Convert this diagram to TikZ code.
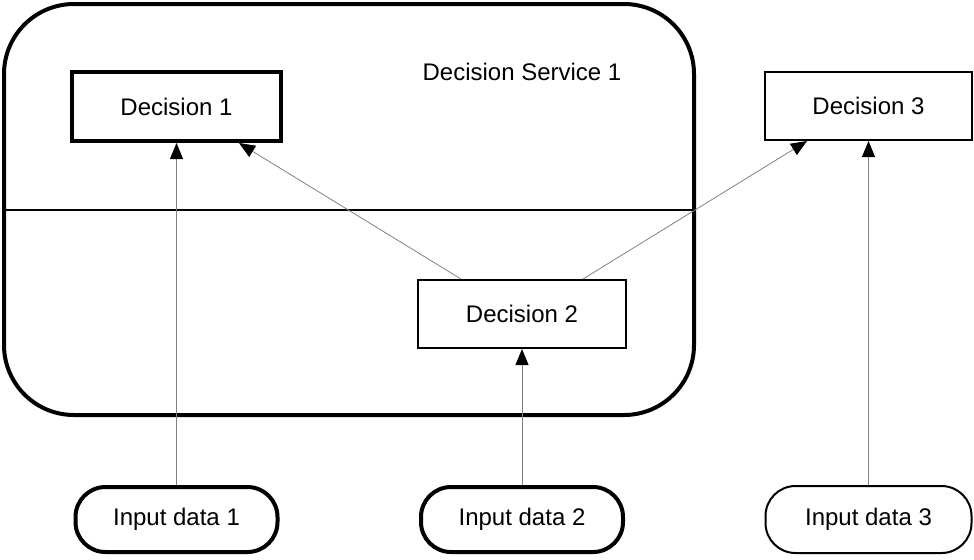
\documentclass[tikz,border=0pt]{standalone}
\usepackage{fontspec}
\setmainfont{Liberation Sans}
\usetikzlibrary{arrows.meta}
\begin{document}
\begin{tikzpicture}[x=0.5pt, y=-0.5pt, font=\fontsize{12}{14}\selectfont,
		dec/.style = {draw, rectangle, line width=1pt, minimum width=104pt, minimum height=34pt, inner sep=0pt},
		inp/.style = {draw, rectangle, rounded corners=15pt, line width=1pt, minimum width=103pt, minimum height=33pt, inner sep=0pt},
		svc/.style = {draw, rectangle, rounded corners=35pt, line width=2pt, minimum width=345pt, minimum height=205.5pt},
		arr/.style = {-{Triangle[length=8pt,width=6.5pt,color=black]}, line width=0.4pt, gray}]
			\useasboundingbox (0,0) rectangle (974,559);
			\node[svc] (ds) at (349,209.5) {};
			\draw[line width=1pt] (ds.west |- 0,210) -- (ds.east |- 0,210);
			\node (dsl) at (522,72) {Decision Service 1};
			
			\node[dec, line width=2pt, minimum width=104.5pt, minimum height=34.5pt] (d1) at (176.5,106.5) {Decision 1};
			\node[dec] (d2) at (522,314) {Decision 2};
			\node[dec, minimum width=103.5pt] (d3) at (868.5,106) {Decision 3};
			
			\node[inp, line width=2pt, minimum width=101pt, minimum height=32.5pt] (i1) at (176.5,519.5) {Input data 1};
			\node[inp, line width=2pt, minimum width=101pt, minimum height=32.5pt] (i2) at (522,519.5) {Input data 2};
			\node[inp, minimum height=33.5pt] (i3) at (868.5,519.5) {Input data 3};
			
			\draw[arr] (i1) -- (d1);
			\draw[arr] (i2) -- (d2);
			\draw[arr] (i3) -- (d3);
			\draw[arr] ([xshift=22pt]d2.north west) -- ([xshift=-22pt]d1.south east);
			\draw[arr] ([xshift=-22pt]d2.north east) -- ([xshift=21.5pt]d3.south west);
			
		\end{tikzpicture}
\end{document}
